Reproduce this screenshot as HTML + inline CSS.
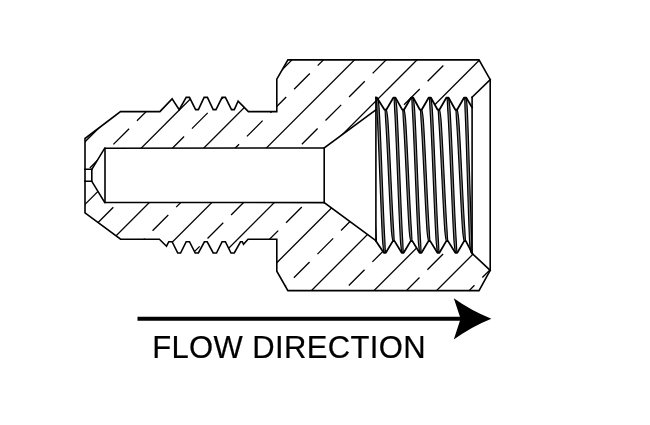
<!DOCTYPE html>
<html><head><meta charset="utf-8"><title>Flow Direction</title>
<style>html,body{margin:0;padding:0;background:#fff;}body{width:650px;height:425px;overflow:hidden;}svg{display:block;will-change:transform;}</style>
</head><body>
<svg width="650" height="425" viewBox="0 0 650 425">
<rect width="650" height="425" fill="#fff"/>
<defs><clipPath id="sec"><polygon points="85.00,138.50 120.50,111.60 159.90,111.60 172.10,98.90 179.20,109.65 186.20,97.40 189.50,97.40 195.60,109.65 198.40,109.65 204.10,97.40 207.40,97.40 213.20,109.65 216.00,109.65 222.10,97.40 225.40,97.40 231.50,109.65 234.30,109.65 238.10,101.20 248.40,111.60 276.80,111.60 276.80,79.20 287.90,59.90 479.00,59.90 490.20,79.60 472.00,97.20 466.15,97.55 464.15,97.55 457.10,109.70 455.30,109.70 448.48,97.55 446.48,97.55 439.40,109.70 437.60,109.70 430.81,97.55 428.81,97.55 421.70,109.70 419.90,109.70 413.14,97.55 411.14,97.55 404.00,109.70 402.20,109.70 395.47,97.55 393.47,97.55 386.30,109.70 384.50,109.70 376.80,97.55 375.90,97.60 375.90,109.75 324.20,147.90 104.70,148.20 91.80,169.30 85.00,169.30"/><polygon points="85.00,212.80 120.60,239.10 159.40,239.30 166.50,246.20 168.80,241.75 172.10,241.75 177.75,253.00 180.60,253.00 186.20,241.75 189.50,241.75 195.20,253.00 198.40,253.00 204.40,241.75 207.20,241.75 213.20,253.00 216.50,253.00 222.10,241.75 225.40,241.75 231.00,253.00 234.30,253.00 240.50,241.75 242.30,241.75 243.50,244.30 248.00,239.30 276.80,239.30 276.80,271.20 287.90,290.60 479.00,290.60 490.20,270.40 472.30,253.60 465.88,241.10 464.08,241.10 457.30,252.80 455.30,252.80 448.06,241.10 446.26,241.10 439.43,252.80 437.43,252.80 430.24,241.10 428.44,241.10 421.55,252.80 419.55,252.80 412.42,241.10 410.62,241.10 403.68,252.80 401.68,252.80 394.60,241.10 392.80,241.10 385.80,252.80 383.80,252.80 375.90,241.00 375.90,240.60 324.20,202.60 104.70,202.50 91.80,181.30 85.00,181.30"/></clipPath>
<clipPath id="thr"><rect x="375.9" y="90" width="96.3" height="170"/></clipPath></defs>
<g clip-path="url(#sec)" stroke="#000" stroke-width="1.3" fill="none">
<line x1="-299.17" y1="400.83" x2="400.83" y2="-299.17"/>
<line x1="-310.98" y1="380.52" x2="384.77" y2="-315.23" stroke-dasharray="22.24 11.12"/>
<line x1="-267.90" y1="432.10" x2="432.10" y2="-267.90"/>
<line x1="-279.60" y1="411.90" x2="416.15" y2="-283.85" stroke-dasharray="22.24 11.12"/>
<line x1="-236.62" y1="463.38" x2="463.38" y2="-236.62"/>
<line x1="-248.22" y1="443.27" x2="447.52" y2="-252.47" stroke-dasharray="22.24 11.12"/>
<line x1="-205.35" y1="494.65" x2="494.65" y2="-205.35"/>
<line x1="-216.85" y1="474.65" x2="478.90" y2="-221.10" stroke-dasharray="22.24 11.12"/>
<line x1="-174.07" y1="525.92" x2="525.92" y2="-174.07"/>
<line x1="-185.47" y1="506.02" x2="510.27" y2="-189.72" stroke-dasharray="22.24 11.12"/>
<line x1="-142.80" y1="557.20" x2="557.20" y2="-142.80"/>
<line x1="-154.10" y1="537.40" x2="541.65" y2="-158.35" stroke-dasharray="22.24 11.12"/>
<line x1="-111.53" y1="588.48" x2="588.48" y2="-111.53"/>
<line x1="-122.72" y1="568.77" x2="573.02" y2="-126.97" stroke-dasharray="22.24 11.12"/>
<line x1="-80.25" y1="619.75" x2="619.75" y2="-80.25"/>
<line x1="-91.35" y1="600.15" x2="604.40" y2="-95.60" stroke-dasharray="22.24 11.12"/>
<line x1="-48.98" y1="651.02" x2="651.02" y2="-48.98"/>
<line x1="-59.98" y1="631.52" x2="635.77" y2="-64.23" stroke-dasharray="22.24 11.12"/>
<line x1="-17.70" y1="682.30" x2="682.30" y2="-17.70"/>
<line x1="-28.60" y1="662.90" x2="667.15" y2="-32.85" stroke-dasharray="22.24 11.12"/>
<line x1="13.57" y1="713.58" x2="713.58" y2="13.57"/>
<line x1="2.77" y1="694.27" x2="698.52" y2="-1.48" stroke-dasharray="22.24 11.12"/>
<line x1="44.85" y1="744.85" x2="744.85" y2="44.85"/>
<line x1="34.15" y1="725.65" x2="729.90" y2="29.90" stroke-dasharray="22.24 11.12"/>
<line x1="76.12" y1="776.12" x2="776.12" y2="76.12"/>
<line x1="65.52" y1="757.02" x2="761.27" y2="61.27" stroke-dasharray="22.24 11.12"/>
</g>
<g clip-path="url(#thr)" stroke="#000" stroke-width="1.2" fill="none" stroke-linejoin="round">
<polygon fill="#808080" points="358.66,98.00 358.68,98.06 358.71,98.24 358.73,98.54 358.76,98.95 358.80,99.48 358.83,100.13 358.87,100.90 358.90,101.78 358.94,102.77 358.99,103.88 359.03,105.09 359.07,106.41 359.12,107.84 359.21,109.38 359.30,111.01 359.39,112.74 359.49,114.57 359.59,116.50 359.69,118.51 359.79,120.61 359.89,122.80 359.99,125.06 360.09,127.41 360.20,129.82 360.30,132.31 360.41,134.86 360.52,137.48 360.63,140.15 360.74,142.88 360.85,145.66 360.96,148.48 361.07,151.34 361.18,154.24 361.30,157.18 361.41,160.14 361.52,163.12 361.64,166.13 361.75,169.14 361.86,172.17 361.98,175.20 362.09,178.23 362.21,181.26 362.32,184.27 362.43,187.28 362.55,190.26 362.66,193.22 362.77,196.16 362.88,199.06 363.00,201.92 363.11,204.74 363.22,207.52 363.33,210.25 363.44,212.92 363.54,215.54 363.65,218.09 363.76,220.58 363.86,222.99 363.96,225.34 364.07,227.60 364.17,229.79 364.27,231.89 364.37,233.90 364.46,235.83 364.56,237.66 364.65,239.39 364.75,241.02 364.84,242.56 364.98,243.99 365.11,245.31 365.24,246.52 365.37,247.63 365.49,248.62 365.62,249.50 365.74,250.27 365.87,250.92 365.99,251.45 366.10,251.86 366.22,252.16 366.34,252.34 366.45,252.40 367.60,252.40 367.58,252.34 367.55,252.16 367.52,251.86 367.49,251.45 367.46,250.92 367.42,250.27 367.39,249.50 367.35,248.62 367.31,247.63 367.27,246.52 367.23,245.31 367.18,243.99 367.13,242.56 367.05,241.02 366.95,239.39 366.86,237.66 366.76,235.83 366.67,233.90 366.57,231.89 366.47,229.79 366.37,227.60 366.26,225.34 366.16,222.99 366.06,220.58 365.95,218.09 365.84,215.54 365.74,212.92 365.63,210.25 365.52,207.52 365.41,204.74 365.30,201.92 365.18,199.06 365.07,196.16 364.96,193.22 364.85,190.26 364.73,187.28 364.62,184.27 364.51,181.26 364.39,178.23 364.28,175.20 364.16,172.17 364.05,169.14 363.94,166.13 363.82,163.12 363.71,160.14 363.60,157.18 363.48,154.24 363.37,151.34 363.26,148.48 363.15,145.66 363.04,142.88 362.93,140.15 362.82,137.48 362.71,134.86 362.60,132.31 362.50,129.82 362.39,127.41 362.29,125.06 362.19,122.80 362.09,120.61 361.99,118.51 361.89,116.50 361.79,114.57 361.69,112.74 361.60,111.01 361.51,109.38 361.41,107.84 361.28,106.41 361.15,105.09 361.02,103.88 360.89,102.77 360.76,101.78 360.64,100.90 360.51,100.13 360.39,99.48 360.27,98.95 360.15,98.54 360.03,98.24 359.92,98.06 359.81,98.00"/>
<polygon fill="#808080" points="367.23,109.60 367.26,109.65 367.29,109.80 367.33,110.06 367.36,110.41 367.40,110.86 367.44,111.42 367.49,112.07 367.53,112.82 367.58,113.67 367.63,114.61 367.68,115.64 367.73,116.77 367.79,117.99 367.84,119.30 367.93,120.69 368.03,122.17 368.13,123.73 368.23,125.37 368.34,127.08 368.44,128.87 368.55,130.73 368.65,132.67 368.76,134.66 368.87,136.72 368.98,138.84 369.10,141.02 369.21,143.25 369.32,145.53 369.44,147.85 369.55,150.22 369.67,152.63 369.79,155.07 369.91,157.54 370.02,160.04 370.14,162.56 370.26,165.11 370.38,167.67 370.50,170.24 370.62,172.82 370.74,175.40 370.86,177.98 370.98,180.56 371.10,183.13 371.22,185.69 371.34,188.24 371.46,190.76 371.57,193.26 371.69,195.73 371.81,198.17 371.93,200.58 372.04,202.95 372.16,205.27 372.27,207.55 372.38,209.78 372.50,211.96 372.61,214.08 372.72,216.14 372.83,218.13 372.93,220.07 373.04,221.93 373.14,223.72 373.25,225.43 373.35,227.07 373.45,228.63 373.55,230.11 373.66,231.50 373.79,232.81 373.93,234.03 374.06,235.16 374.19,236.19 374.32,237.13 374.45,237.98 374.57,238.73 374.70,239.38 374.82,239.94 374.94,240.39 375.06,240.74 375.18,241.00 375.29,241.15 375.41,241.20 376.56,241.20 376.52,241.15 376.49,241.00 376.45,240.74 376.42,240.39 376.38,239.94 376.34,239.38 376.29,238.73 376.25,237.98 376.20,237.13 376.15,236.19 376.10,235.16 376.05,234.03 375.99,232.81 375.94,231.50 375.85,230.11 375.75,228.63 375.65,227.07 375.55,225.43 375.44,223.72 375.34,221.93 375.23,220.07 375.13,218.13 375.02,216.14 374.91,214.08 374.80,211.96 374.68,209.78 374.57,207.55 374.46,205.27 374.34,202.95 374.23,200.58 374.11,198.17 373.99,195.73 373.87,193.26 373.76,190.76 373.64,188.24 373.52,185.69 373.40,183.13 373.28,180.56 373.16,177.98 373.04,175.40 372.92,172.82 372.80,170.24 372.68,167.67 372.56,165.11 372.44,162.56 372.32,160.04 372.21,157.54 372.09,155.07 371.97,152.63 371.85,150.22 371.74,147.85 371.62,145.53 371.51,143.25 371.40,141.02 371.28,138.84 371.17,136.72 371.06,134.66 370.95,132.67 370.85,130.73 370.74,128.87 370.64,127.08 370.53,125.37 370.43,123.73 370.33,122.17 370.23,120.69 370.12,119.30 369.99,117.99 369.85,116.77 369.72,115.64 369.59,114.61 369.46,113.67 369.33,112.82 369.21,112.07 369.08,111.42 368.96,110.86 368.84,110.41 368.72,110.06 368.60,109.80 368.49,109.65 368.38,109.60"/>
<polygon fill="#808080" points="376.33,98.00 376.35,98.06 376.38,98.24 376.41,98.54 376.44,98.95 376.48,99.48 376.51,100.13 376.55,100.90 376.59,101.78 376.63,102.77 376.68,103.88 376.72,105.09 376.77,106.41 376.82,107.84 376.91,109.38 377.00,111.01 377.10,112.74 377.20,114.57 377.30,116.50 377.40,118.51 377.50,120.61 377.61,122.80 377.71,125.06 377.82,127.41 377.92,129.82 378.03,132.31 378.14,134.86 378.25,137.48 378.37,140.15 378.48,142.88 378.59,145.66 378.70,148.48 378.82,151.34 378.93,154.24 379.05,157.18 379.17,160.14 379.28,163.12 379.40,166.13 379.52,169.14 379.63,172.17 379.75,175.20 379.87,178.23 379.98,181.26 380.10,184.27 380.22,187.28 380.33,190.26 380.45,193.22 380.57,196.16 380.68,199.06 380.80,201.92 380.91,204.74 381.02,207.52 381.13,210.25 381.25,212.92 381.36,215.54 381.47,218.09 381.58,220.58 381.68,222.99 381.79,225.34 381.89,227.60 382.00,229.79 382.10,231.89 382.20,233.90 382.30,235.83 382.40,237.66 382.50,239.39 382.59,241.02 382.69,242.56 382.83,243.99 382.96,245.31 383.09,246.52 383.22,247.63 383.35,248.62 383.48,249.50 383.61,250.27 383.73,250.92 383.85,251.45 383.97,251.86 384.09,252.16 384.21,252.34 384.32,252.40 385.48,252.40 385.45,252.34 385.42,252.16 385.39,251.86 385.36,251.45 385.32,250.92 385.29,250.27 385.25,249.50 385.21,248.62 385.17,247.63 385.12,246.52 385.08,245.31 385.03,243.99 384.98,242.56 384.89,241.02 384.80,239.39 384.70,237.66 384.60,235.83 384.50,233.90 384.40,231.89 384.30,229.79 384.19,227.60 384.09,225.34 383.98,222.99 383.88,220.58 383.77,218.09 383.66,215.54 383.55,212.92 383.43,210.25 383.32,207.52 383.21,204.74 383.10,201.92 382.98,199.06 382.87,196.16 382.75,193.22 382.63,190.26 382.52,187.28 382.40,184.27 382.28,181.26 382.17,178.23 382.05,175.20 381.93,172.17 381.82,169.14 381.70,166.13 381.58,163.12 381.47,160.14 381.35,157.18 381.23,154.24 381.12,151.34 381.00,148.48 380.89,145.66 380.78,142.88 380.67,140.15 380.55,137.48 380.44,134.86 380.33,132.31 380.22,129.82 380.12,127.41 380.01,125.06 379.91,122.80 379.80,120.61 379.70,118.51 379.60,116.50 379.50,114.57 379.40,112.74 379.30,111.01 379.21,109.38 379.11,107.84 378.97,106.41 378.84,105.09 378.71,103.88 378.58,102.77 378.45,101.78 378.32,100.90 378.19,100.13 378.07,99.48 377.95,98.95 377.83,98.54 377.71,98.24 377.59,98.06 377.48,98.00"/>
<polygon fill="#808080" points="384.93,109.60 384.96,109.65 384.99,109.80 385.03,110.06 385.07,110.41 385.11,110.86 385.15,111.42 385.19,112.07 385.24,112.82 385.29,113.67 385.34,114.61 385.39,115.64 385.45,116.77 385.50,117.99 385.56,119.30 385.65,120.69 385.75,122.17 385.85,123.73 385.96,125.37 386.06,127.08 386.17,128.87 386.28,130.73 386.38,132.67 386.49,134.66 386.61,136.72 386.72,138.84 386.83,141.02 386.95,143.25 387.06,145.53 387.18,147.85 387.30,150.22 387.42,152.63 387.53,155.07 387.65,157.54 387.77,160.04 387.89,162.56 388.01,165.11 388.14,167.67 388.26,170.24 388.38,172.82 388.50,175.40 388.62,177.98 388.74,180.56 388.86,183.13 388.99,185.69 389.11,188.24 389.23,190.76 389.35,193.26 389.47,195.73 389.58,198.17 389.70,200.58 389.82,202.95 389.94,205.27 390.05,207.55 390.17,209.78 390.28,211.96 390.39,214.08 390.51,216.14 390.62,218.13 390.72,220.07 390.83,221.93 390.94,223.72 391.04,225.43 391.15,227.07 391.25,228.63 391.35,230.11 391.46,231.50 391.60,232.81 391.73,234.03 391.86,235.16 392.00,236.19 392.13,237.13 392.26,237.98 392.38,238.73 392.51,239.38 392.63,239.94 392.76,240.39 392.88,240.74 392.99,241.00 393.11,241.15 393.23,241.20 394.38,241.20 394.34,241.15 394.31,241.00 394.27,240.74 394.23,240.39 394.19,239.94 394.15,239.38 394.11,238.73 394.06,237.98 394.01,237.13 393.96,236.19 393.91,235.16 393.85,234.03 393.80,232.81 393.74,231.50 393.65,230.11 393.55,228.63 393.45,227.07 393.34,225.43 393.24,223.72 393.13,221.93 393.02,220.07 392.92,218.13 392.81,216.14 392.69,214.08 392.58,211.96 392.47,209.78 392.35,207.55 392.24,205.27 392.12,202.95 392.00,200.58 391.88,198.17 391.77,195.73 391.65,193.26 391.53,190.76 391.41,188.24 391.29,185.69 391.16,183.13 391.04,180.56 390.92,177.98 390.80,175.40 390.68,172.82 390.56,170.24 390.44,167.67 390.31,165.11 390.19,162.56 390.07,160.04 389.95,157.54 389.83,155.07 389.72,152.63 389.60,150.22 389.48,147.85 389.36,145.53 389.25,143.25 389.13,141.02 389.02,138.84 388.91,136.72 388.79,134.66 388.68,132.67 388.58,130.73 388.47,128.87 388.36,127.08 388.26,125.37 388.15,123.73 388.05,122.17 387.95,120.69 387.84,119.30 387.70,117.99 387.57,116.77 387.44,115.64 387.30,114.61 387.17,113.67 387.04,112.82 386.92,112.07 386.79,111.42 386.67,110.86 386.54,110.41 386.42,110.06 386.31,109.80 386.19,109.65 386.07,109.60"/>
<polygon fill="#808080" points="394.00,98.00 394.02,98.06 394.05,98.24 394.09,98.54 394.12,98.95 394.16,99.48 394.19,100.13 394.23,100.90 394.28,101.78 394.32,102.77 394.37,103.88 394.41,105.09 394.46,106.41 394.51,107.84 394.61,109.38 394.70,111.01 394.80,112.74 394.90,114.57 395.01,116.50 395.11,118.51 395.22,120.61 395.32,122.80 395.43,125.06 395.54,127.41 395.65,129.82 395.76,132.31 395.87,134.86 395.99,137.48 396.10,140.15 396.22,142.88 396.33,145.66 396.45,148.48 396.57,151.34 396.69,154.24 396.80,157.18 396.92,160.14 397.04,163.12 397.16,166.13 397.28,169.14 397.40,172.17 397.52,175.20 397.64,178.23 397.76,181.26 397.88,184.27 398.00,187.28 398.12,190.26 398.24,193.22 398.36,196.16 398.48,199.06 398.59,201.92 398.71,204.74 398.83,207.52 398.94,210.25 399.06,212.92 399.17,215.54 399.28,218.09 399.39,220.58 399.50,222.99 399.61,225.34 399.72,227.60 399.83,229.79 399.93,231.89 400.04,233.90 400.14,235.83 400.24,237.66 400.34,239.39 400.44,241.02 400.54,242.56 400.68,243.99 400.81,245.31 400.95,246.52 401.08,247.63 401.21,248.62 401.34,249.50 401.47,250.27 401.60,250.92 401.72,251.45 401.84,251.86 401.96,252.16 402.08,252.34 402.20,252.40 403.35,252.40 403.32,252.34 403.29,252.16 403.26,251.86 403.22,251.45 403.19,250.92 403.15,250.27 403.11,249.50 403.07,248.62 403.02,247.63 402.98,246.52 402.93,245.31 402.88,243.99 402.83,242.56 402.74,241.02 402.64,239.39 402.54,237.66 402.44,235.83 402.34,233.90 402.23,231.89 402.13,229.79 402.02,227.60 401.91,225.34 401.80,222.99 401.69,220.58 401.58,218.09 401.47,215.54 401.36,212.92 401.24,210.25 401.13,207.52 401.01,204.74 400.89,201.92 400.78,199.06 400.66,196.16 400.54,193.22 400.42,190.26 400.30,187.28 400.18,184.27 400.06,181.26 399.94,178.23 399.82,175.20 399.70,172.17 399.58,169.14 399.46,166.13 399.34,163.12 399.22,160.14 399.10,157.18 398.99,154.24 398.87,151.34 398.75,148.48 398.63,145.66 398.52,142.88 398.40,140.15 398.29,137.48 398.17,134.86 398.06,132.31 397.95,129.82 397.84,127.41 397.73,125.06 397.62,122.80 397.52,120.61 397.41,118.51 397.31,116.50 397.20,114.57 397.10,112.74 397.00,111.01 396.91,109.38 396.81,107.84 396.67,106.41 396.53,105.09 396.40,103.88 396.26,102.77 396.13,101.78 396.00,100.90 395.88,100.13 395.75,99.48 395.62,98.95 395.50,98.54 395.38,98.24 395.26,98.06 395.15,98.00"/>
<polygon fill="#808080" points="402.62,109.60 402.66,109.65 402.69,109.80 402.73,110.06 402.77,110.41 402.81,110.86 402.86,111.42 402.90,112.07 402.95,112.82 403.00,113.67 403.05,114.61 403.10,115.64 403.16,116.77 403.22,117.99 403.28,119.30 403.37,120.69 403.47,122.17 403.57,123.73 403.68,125.37 403.79,127.08 403.89,128.87 404.00,130.73 404.11,132.67 404.23,134.66 404.34,136.72 404.45,138.84 404.57,141.02 404.69,143.25 404.80,145.53 404.92,147.85 405.04,150.22 405.16,152.63 405.28,155.07 405.40,157.54 405.52,160.04 405.65,162.56 405.77,165.11 405.89,167.67 406.01,170.24 406.14,172.82 406.26,175.40 406.38,177.98 406.51,180.56 406.63,183.13 406.75,185.69 406.87,188.24 407.00,190.76 407.12,193.26 407.24,195.73 407.36,198.17 407.48,200.58 407.60,202.95 407.72,205.27 407.83,207.55 407.95,209.78 408.07,211.96 408.18,214.08 408.29,216.14 408.41,218.13 408.52,220.07 408.63,221.93 408.73,223.72 408.84,225.43 408.95,227.07 409.05,228.63 409.15,230.11 409.26,231.50 409.40,232.81 409.54,234.03 409.67,235.16 409.81,236.19 409.94,237.13 410.07,237.98 410.20,238.73 410.32,239.38 410.45,239.94 410.57,240.39 410.69,240.74 410.81,241.00 410.93,241.15 411.05,241.20 412.19,241.20 412.16,241.15 412.13,241.00 412.09,240.74 412.05,240.39 412.01,239.94 411.96,239.38 411.92,238.73 411.87,237.98 411.82,237.13 411.77,236.19 411.72,235.16 411.66,234.03 411.60,232.81 411.54,231.50 411.45,230.11 411.35,228.63 411.25,227.07 411.14,225.43 411.03,223.72 410.93,221.93 410.82,220.07 410.71,218.13 410.59,216.14 410.48,214.08 410.37,211.96 410.25,209.78 410.13,207.55 410.02,205.27 409.90,202.95 409.78,200.58 409.66,198.17 409.54,195.73 409.42,193.26 409.30,190.76 409.17,188.24 409.05,185.69 408.93,183.13 408.81,180.56 408.68,177.98 408.56,175.40 408.44,172.82 408.31,170.24 408.19,167.67 408.07,165.11 407.95,162.56 407.82,160.04 407.70,157.54 407.58,155.07 407.46,152.63 407.34,150.22 407.22,147.85 407.10,145.53 406.99,143.25 406.87,141.02 406.75,138.84 406.64,136.72 406.53,134.66 406.41,132.67 406.30,130.73 406.19,128.87 406.09,127.08 405.98,125.37 405.87,123.73 405.77,122.17 405.67,120.69 405.56,119.30 405.42,117.99 405.28,116.77 405.15,115.64 405.01,114.61 404.88,113.67 404.75,112.82 404.62,112.07 404.50,111.42 404.37,110.86 404.25,110.41 404.13,110.06 404.01,109.80 403.89,109.65 403.77,109.60"/>
<polygon fill="#808080" points="411.67,98.00 411.70,98.06 411.73,98.24 411.76,98.54 411.80,98.95 411.84,99.48 411.88,100.13 411.92,100.90 411.96,101.78 412.01,102.77 412.06,103.88 412.11,105.09 412.16,106.41 412.21,107.84 412.31,109.38 412.41,111.01 412.51,112.74 412.61,114.57 412.72,116.50 412.82,118.51 412.93,120.61 413.04,122.80 413.15,125.06 413.26,127.41 413.38,129.82 413.49,132.31 413.61,134.86 413.72,137.48 413.84,140.15 413.96,142.88 414.08,145.66 414.20,148.48 414.32,151.34 414.44,154.24 414.56,157.18 414.68,160.14 414.80,163.12 414.93,166.13 415.05,169.14 415.17,172.17 415.30,175.20 415.42,178.23 415.54,181.26 415.66,184.27 415.79,187.28 415.91,190.26 416.03,193.22 416.15,196.16 416.27,199.06 416.39,201.92 416.51,204.74 416.63,207.52 416.75,210.25 416.87,212.92 416.98,215.54 417.10,218.09 417.21,220.58 417.33,222.99 417.44,225.34 417.55,227.60 417.66,229.79 417.77,231.89 417.87,233.90 417.98,235.83 418.08,237.66 418.18,239.39 418.28,241.02 418.39,242.56 418.53,243.99 418.67,245.31 418.80,246.52 418.94,247.63 419.07,248.62 419.20,249.50 419.33,250.27 419.46,250.92 419.59,251.45 419.71,251.86 419.84,252.16 419.96,252.34 420.07,252.40 421.23,252.40 421.19,252.34 421.16,252.16 421.13,251.86 421.09,251.45 421.05,250.92 421.01,250.27 420.97,249.50 420.93,248.62 420.88,247.63 420.83,246.52 420.78,245.31 420.73,243.99 420.68,242.56 420.58,241.02 420.48,239.39 420.38,237.66 420.28,235.83 420.17,233.90 420.07,231.89 419.96,229.79 419.85,227.60 419.74,225.34 419.63,222.99 419.51,220.58 419.40,218.09 419.28,215.54 419.17,212.92 419.05,210.25 418.93,207.52 418.81,204.74 418.69,201.92 418.57,199.06 418.45,196.16 418.33,193.22 418.21,190.26 418.09,187.28 417.96,184.27 417.84,181.26 417.72,178.23 417.59,175.20 417.47,172.17 417.35,169.14 417.23,166.13 417.10,163.12 416.98,160.14 416.86,157.18 416.74,154.24 416.62,151.34 416.50,148.48 416.38,145.66 416.26,142.88 416.14,140.15 416.02,137.48 415.91,134.86 415.79,132.31 415.68,129.82 415.56,127.41 415.45,125.06 415.34,122.80 415.23,120.61 415.12,118.51 415.02,116.50 414.91,114.57 414.81,112.74 414.71,111.01 414.61,109.38 414.50,107.84 414.36,106.41 414.22,105.09 414.09,103.88 413.95,102.77 413.82,101.78 413.69,100.90 413.56,100.13 413.43,99.48 413.30,98.95 413.18,98.54 413.05,98.24 412.93,98.06 412.81,98.00"/>
<polygon fill="#808080" points="420.32,109.60 420.36,109.65 420.40,109.80 420.44,110.06 420.48,110.41 420.52,110.86 420.56,111.42 420.61,112.07 420.66,112.82 420.71,113.67 420.76,114.61 420.82,115.64 420.87,116.77 420.93,117.99 420.99,119.30 421.09,120.69 421.19,122.17 421.30,123.73 421.40,125.37 421.51,127.08 421.62,128.87 421.73,130.73 421.84,132.67 421.96,134.66 422.07,136.72 422.19,138.84 422.30,141.02 422.42,143.25 422.54,145.53 422.66,147.85 422.78,150.22 422.90,152.63 423.03,155.07 423.15,157.54 423.27,160.04 423.40,162.56 423.52,165.11 423.65,167.67 423.77,170.24 423.89,172.82 424.02,175.40 424.15,177.98 424.27,180.56 424.39,183.13 424.52,185.69 424.64,188.24 424.77,190.76 424.89,193.26 425.01,195.73 425.14,198.17 425.26,200.58 425.38,202.95 425.50,205.27 425.62,207.55 425.74,209.78 425.85,211.96 425.97,214.08 426.08,216.14 426.20,218.13 426.31,220.07 426.42,221.93 426.53,223.72 426.64,225.43 426.74,227.07 426.85,228.63 426.95,230.11 427.06,231.50 427.20,232.81 427.34,234.03 427.48,235.16 427.61,236.19 427.75,237.13 427.88,237.98 428.01,238.73 428.14,239.38 428.26,239.94 428.39,240.39 428.51,240.74 428.63,241.00 428.75,241.15 428.87,241.20 430.01,241.20 429.98,241.15 429.94,241.00 429.90,240.74 429.86,240.39 429.82,239.94 429.78,239.38 429.73,238.73 429.68,237.98 429.63,237.13 429.58,236.19 429.52,235.16 429.47,234.03 429.41,232.81 429.35,231.50 429.25,230.11 429.15,228.63 429.04,227.07 428.94,225.43 428.83,223.72 428.72,221.93 428.61,220.07 428.50,218.13 428.38,216.14 428.27,214.08 428.15,211.96 428.04,209.78 427.92,207.55 427.80,205.27 427.68,202.95 427.56,200.58 427.44,198.17 427.31,195.73 427.19,193.26 427.07,190.76 426.94,188.24 426.82,185.69 426.69,183.13 426.57,180.56 426.45,177.98 426.32,175.40 426.19,172.82 426.07,170.24 425.95,167.67 425.82,165.11 425.70,162.56 425.57,160.04 425.45,157.54 425.33,155.07 425.20,152.63 425.08,150.22 424.96,147.85 424.84,145.53 424.72,143.25 424.60,141.02 424.49,138.84 424.37,136.72 424.26,134.66 424.14,132.67 424.03,130.73 423.92,128.87 423.81,127.08 423.70,125.37 423.60,123.73 423.49,122.17 423.39,120.69 423.28,119.30 423.14,117.99 423.00,116.77 422.86,115.64 422.73,114.61 422.59,113.67 422.46,112.82 422.33,112.07 422.20,111.42 422.08,110.86 421.95,110.41 421.83,110.06 421.71,109.80 421.59,109.65 421.47,109.60"/>
<polygon fill="#808080" points="429.34,98.00 429.37,98.06 429.40,98.24 429.44,98.54 429.48,98.95 429.52,99.48 429.56,100.13 429.60,100.90 429.65,101.78 429.70,102.77 429.75,103.88 429.80,105.09 429.85,106.41 429.91,107.84 430.01,109.38 430.11,111.01 430.21,112.74 430.32,114.57 430.43,116.50 430.54,118.51 430.65,120.61 430.76,122.80 430.87,125.06 430.99,127.41 431.10,129.82 431.22,132.31 431.34,134.86 431.46,137.48 431.58,140.15 431.70,142.88 431.82,145.66 431.94,148.48 432.07,151.34 432.19,154.24 432.31,157.18 432.44,160.14 432.56,163.12 432.69,166.13 432.82,169.14 432.94,172.17 433.07,175.20 433.19,178.23 433.32,181.26 433.45,184.27 433.57,187.28 433.70,190.26 433.82,193.22 433.95,196.16 434.07,199.06 434.19,201.92 434.32,204.74 434.44,207.52 434.56,210.25 434.68,212.92 434.80,215.54 434.92,218.09 435.03,220.58 435.15,222.99 435.26,225.34 435.38,227.60 435.49,229.79 435.60,231.89 435.71,233.90 435.82,235.83 435.92,237.66 436.03,239.39 436.13,241.02 436.23,242.56 436.38,243.99 436.52,245.31 436.66,246.52 436.79,247.63 436.93,248.62 437.06,249.50 437.20,250.27 437.33,250.92 437.46,251.45 437.58,251.86 437.71,252.16 437.83,252.34 437.95,252.40 439.10,252.40 439.07,252.34 439.03,252.16 439.00,251.86 438.96,251.45 438.92,250.92 438.88,250.27 438.83,249.50 438.79,248.62 438.74,247.63 438.69,246.52 438.64,245.31 438.58,243.99 438.53,242.56 438.43,241.02 438.33,239.39 438.22,237.66 438.12,235.83 438.01,233.90 437.90,231.89 437.79,229.79 437.68,227.60 437.56,225.34 437.45,222.99 437.33,220.58 437.22,218.09 437.10,215.54 436.98,212.92 436.86,210.25 436.74,207.52 436.62,204.74 436.49,201.92 436.37,199.06 436.25,196.16 436.12,193.22 436.00,190.26 435.87,187.28 435.75,184.27 435.62,181.26 435.49,178.23 435.37,175.20 435.24,172.17 435.12,169.14 434.99,166.13 434.86,163.12 434.74,160.14 434.61,157.18 434.49,154.24 434.37,151.34 434.24,148.48 434.12,145.66 434.00,142.88 433.88,140.15 433.76,137.48 433.64,134.86 433.52,132.31 433.40,129.82 433.29,127.41 433.17,125.06 433.06,122.80 432.95,120.61 432.84,118.51 432.73,116.50 432.62,114.57 432.51,112.74 432.41,111.01 432.31,109.38 432.20,107.84 432.06,106.41 431.92,105.09 431.78,103.88 431.64,102.77 431.50,101.78 431.37,100.90 431.24,100.13 431.11,99.48 430.98,98.95 430.85,98.54 430.73,98.24 430.61,98.06 430.49,98.00"/>
<polygon fill="#808080" points="438.03,109.60 438.06,109.65 438.10,109.80 438.14,110.06 438.18,110.41 438.22,110.86 438.27,111.42 438.32,112.07 438.37,112.82 438.42,113.67 438.47,114.61 438.53,115.64 438.59,116.77 438.65,117.99 438.71,119.30 438.81,120.69 438.91,122.17 439.02,123.73 439.13,125.37 439.23,127.08 439.35,128.87 439.46,130.73 439.57,132.67 439.69,134.66 439.80,136.72 439.92,138.84 440.04,141.02 440.16,143.25 440.28,145.53 440.40,147.85 440.53,150.22 440.65,152.63 440.77,155.07 440.90,157.54 441.02,160.04 441.15,162.56 441.27,165.11 441.40,167.67 441.53,170.24 441.65,172.82 441.78,175.40 441.91,177.98 442.03,180.56 442.16,183.13 442.29,185.69 442.41,188.24 442.54,190.76 442.66,193.26 442.79,195.73 442.91,198.17 443.03,200.58 443.16,202.95 443.28,205.27 443.40,207.55 443.52,209.78 443.64,211.96 443.76,214.08 443.87,216.14 443.99,218.13 444.10,220.07 444.21,221.93 444.33,223.72 444.43,225.43 444.54,227.07 444.65,228.63 444.75,230.11 444.87,231.50 445.01,232.81 445.15,234.03 445.29,235.16 445.42,236.19 445.56,237.13 445.69,237.98 445.82,238.73 445.95,239.38 446.08,239.94 446.20,240.39 446.33,240.74 446.45,241.00 446.57,241.15 446.69,241.20 447.83,241.20 447.80,241.15 447.76,241.00 447.72,240.74 447.68,240.39 447.64,239.94 447.59,239.38 447.54,238.73 447.49,237.98 447.44,237.13 447.39,236.19 447.33,235.16 447.27,234.03 447.21,232.81 447.15,231.50 447.05,230.11 446.95,228.63 446.84,227.07 446.73,225.43 446.63,223.72 446.51,221.93 446.40,220.07 446.29,218.13 446.17,216.14 446.06,214.08 445.94,211.96 445.82,209.78 445.70,207.55 445.58,205.27 445.46,202.95 445.33,200.58 445.21,198.17 445.09,195.73 444.96,193.26 444.84,190.76 444.71,188.24 444.59,185.69 444.46,183.13 444.33,180.56 444.21,177.98 444.08,175.40 443.95,172.82 443.83,170.24 443.70,167.67 443.57,165.11 443.45,162.56 443.32,160.04 443.20,157.54 443.07,155.07 442.95,152.63 442.83,150.22 442.70,147.85 442.58,145.53 442.46,143.25 442.34,141.02 442.22,138.84 442.10,136.72 441.99,134.66 441.87,132.67 441.76,130.73 441.65,128.87 441.53,127.08 441.43,125.37 441.32,123.73 441.21,122.17 441.11,120.69 440.99,119.30 440.85,117.99 440.71,116.77 440.57,115.64 440.44,114.61 440.30,113.67 440.17,112.82 440.04,112.07 439.91,111.42 439.78,110.86 439.66,110.41 439.53,110.06 439.41,109.80 439.29,109.65 439.18,109.60"/>
<polygon fill="#808080" points="447.01,98.00 447.04,98.06 447.07,98.24 447.11,98.54 447.15,98.95 447.19,99.48 447.24,100.13 447.29,100.90 447.33,101.78 447.38,102.77 447.44,103.88 447.49,105.09 447.55,106.41 447.61,107.84 447.71,109.38 447.81,111.01 447.92,112.74 448.03,114.57 448.14,116.50 448.25,118.51 448.36,120.61 448.48,122.80 448.59,125.06 448.71,127.41 448.83,129.82 448.95,132.31 449.07,134.86 449.19,137.48 449.31,140.15 449.44,142.88 449.56,145.66 449.69,148.48 449.81,151.34 449.94,154.24 450.07,157.18 450.20,160.14 450.32,163.12 450.45,166.13 450.58,169.14 450.71,172.17 450.84,175.20 450.97,178.23 451.10,181.26 451.23,184.27 451.36,187.28 451.48,190.26 451.61,193.22 451.74,196.16 451.87,199.06 451.99,201.92 452.12,204.74 452.24,207.52 452.37,210.25 452.49,212.92 452.61,215.54 452.73,218.09 452.85,220.58 452.97,222.99 453.09,225.34 453.20,227.60 453.32,229.79 453.43,231.89 453.54,233.90 453.65,235.83 453.76,237.66 453.87,239.39 453.97,241.02 454.08,242.56 454.23,243.99 454.37,245.31 454.51,246.52 454.65,247.63 454.79,248.62 454.93,249.50 455.06,250.27 455.19,250.92 455.32,251.45 455.45,251.86 455.58,252.16 455.70,252.34 455.82,252.40 456.98,252.40 456.94,252.34 456.91,252.16 456.87,251.86 456.83,251.45 456.79,250.92 456.74,250.27 456.69,249.50 456.65,248.62 456.60,247.63 456.54,246.52 456.49,245.31 456.43,243.99 456.37,242.56 456.27,241.02 456.17,239.39 456.06,237.66 455.95,235.83 455.84,233.90 455.73,231.89 455.62,229.79 455.50,227.60 455.39,225.34 455.27,222.99 455.15,220.58 455.03,218.09 454.91,215.54 454.79,212.92 454.67,210.25 454.54,207.52 454.42,204.74 454.29,201.92 454.17,199.06 454.04,196.16 453.91,193.22 453.78,190.26 453.66,187.28 453.53,184.27 453.40,181.26 453.27,178.23 453.14,175.20 453.01,172.17 452.88,169.14 452.75,166.13 452.62,163.12 452.50,160.14 452.37,157.18 452.24,154.24 452.11,151.34 451.99,148.48 451.86,145.66 451.74,142.88 451.61,140.15 451.49,137.48 451.37,134.86 451.25,132.31 451.13,129.82 451.01,127.41 450.89,125.06 450.78,122.80 450.66,120.61 450.55,118.51 450.44,116.50 450.33,114.57 450.22,112.74 450.11,111.01 450.01,109.38 449.90,107.84 449.75,106.41 449.61,105.09 449.47,103.88 449.33,102.77 449.19,101.78 449.05,100.90 448.92,100.13 448.79,99.48 448.66,98.95 448.53,98.54 448.40,98.24 448.28,98.06 448.16,98.00"/>
<polygon fill="#808080" points="455.73,109.60 455.76,109.65 455.80,109.80 455.84,110.06 455.88,110.41 455.93,110.86 455.98,111.42 456.03,112.07 456.08,112.82 456.13,113.67 456.19,114.61 456.24,115.64 456.30,116.77 456.36,117.99 456.43,119.30 456.52,120.69 456.63,122.17 456.74,123.73 456.85,125.37 456.96,127.08 457.07,128.87 457.19,130.73 457.30,132.67 457.42,134.66 457.54,136.72 457.66,138.84 457.78,141.02 457.90,143.25 458.02,145.53 458.14,147.85 458.27,150.22 458.39,152.63 458.52,155.07 458.64,157.54 458.77,160.04 458.90,162.56 459.03,165.11 459.15,167.67 459.28,170.24 459.41,172.82 459.54,175.40 459.67,177.98 459.80,180.56 459.93,183.13 460.05,185.69 460.18,188.24 460.31,190.76 460.44,193.26 460.56,195.73 460.69,198.17 460.81,200.58 460.94,202.95 461.06,205.27 461.18,207.55 461.30,209.78 461.42,211.96 461.54,214.08 461.66,216.14 461.78,218.13 461.89,220.07 462.01,221.93 462.12,223.72 462.23,225.43 462.34,227.07 462.45,228.63 462.56,230.11 462.67,231.50 462.81,232.81 462.95,234.03 463.09,235.16 463.23,236.19 463.37,237.13 463.50,237.98 463.63,238.73 463.76,239.38 463.89,239.94 464.02,240.39 464.14,240.74 464.27,241.00 464.39,241.15 464.51,241.20 465.66,241.20 465.62,241.15 465.58,241.00 465.54,240.74 465.50,240.39 465.45,239.94 465.40,239.38 465.35,238.73 465.30,237.98 465.25,237.13 465.19,236.19 465.14,235.16 465.08,234.03 465.02,232.81 464.95,231.50 464.86,230.11 464.75,228.63 464.64,227.07 464.53,225.43 464.42,223.72 464.31,221.93 464.19,220.07 464.08,218.13 463.96,216.14 463.84,214.08 463.72,211.96 463.60,209.78 463.48,207.55 463.36,205.27 463.24,202.95 463.11,200.58 462.99,198.17 462.86,195.73 462.74,193.26 462.61,190.76 462.48,188.24 462.35,185.69 462.23,183.13 462.10,180.56 461.97,177.98 461.84,175.40 461.71,172.82 461.58,170.24 461.45,167.67 461.33,165.11 461.20,162.56 461.07,160.04 460.94,157.54 460.82,155.07 460.69,152.63 460.57,150.22 460.44,147.85 460.32,145.53 460.20,143.25 460.08,141.02 459.96,138.84 459.84,136.72 459.72,134.66 459.60,132.67 459.49,130.73 459.37,128.87 459.26,127.08 459.15,125.37 459.04,123.73 458.93,122.17 458.82,120.69 458.71,119.30 458.57,117.99 458.43,116.77 458.29,115.64 458.15,114.61 458.01,113.67 457.88,112.82 457.75,112.07 457.62,111.42 457.49,110.86 457.36,110.41 457.24,110.06 457.11,109.80 456.99,109.65 456.88,109.60"/>
<polygon fill="#808080" points="464.68,98.00 464.69,98.06 464.70,98.24 464.72,98.54 464.73,98.95 464.75,99.48 464.77,100.13 464.79,100.90 464.81,101.78 464.84,102.77 464.86,103.88 464.89,105.09 464.92,106.41 464.95,107.84 465.02,109.38 465.09,111.01 465.17,112.74 465.25,114.57 465.33,116.50 465.41,118.51 465.49,120.61 465.57,122.80 465.66,125.06 465.74,127.41 465.83,129.82 465.91,132.31 466.00,134.86 466.09,137.48 466.18,140.15 466.27,142.88 466.35,145.66 466.45,148.48 466.54,151.34 466.63,154.24 466.72,157.18 466.81,160.14 466.90,163.12 467.00,166.13 467.09,169.14 467.18,172.17 467.28,175.20 467.37,178.23 467.46,181.26 467.55,184.27 467.65,187.28 467.74,190.26 467.83,193.22 467.92,196.16 468.01,199.06 468.10,201.92 468.20,204.74 468.28,207.52 468.37,210.25 468.46,212.92 468.55,215.54 468.64,218.09 468.72,220.58 468.81,222.99 468.89,225.34 468.98,227.60 469.06,229.79 469.14,231.89 469.22,233.90 469.30,235.83 469.38,237.66 469.46,239.39 469.53,241.02 469.61,242.56 469.73,243.99 469.84,245.31 469.96,246.52 470.07,247.63 470.18,248.62 470.29,249.50 470.40,250.27 470.51,250.92 470.61,251.45 470.72,251.86 470.82,252.16 470.92,252.34 471.02,252.40 472.18,252.40 472.16,252.34 472.15,252.16 472.13,251.86 472.12,251.45 472.10,250.92 472.08,250.27 472.06,249.50 472.04,248.62 472.01,247.63 471.99,246.52 471.96,245.31 471.93,243.99 471.90,242.56 471.83,241.02 471.76,239.39 471.68,237.66 471.60,235.83 471.52,233.90 471.44,231.89 471.36,229.79 471.28,227.60 471.19,225.34 471.11,222.99 471.02,220.58 470.94,218.09 470.85,215.54 470.76,212.92 470.67,210.25 470.58,207.52 470.50,204.74 470.40,201.92 470.31,199.06 470.22,196.16 470.13,193.22 470.04,190.26 469.95,187.28 469.85,184.27 469.76,181.26 469.67,178.23 469.57,175.20 469.48,172.17 469.39,169.14 469.30,166.13 469.20,163.12 469.11,160.14 469.02,157.18 468.93,154.24 468.84,151.34 468.75,148.48 468.65,145.66 468.57,142.88 468.48,140.15 468.39,137.48 468.30,134.86 468.21,132.31 468.13,129.82 468.04,127.41 467.96,125.06 467.87,122.80 467.79,120.61 467.71,118.51 467.63,116.50 467.55,114.57 467.47,112.74 467.39,111.01 467.32,109.38 467.24,107.84 467.12,106.41 467.01,105.09 466.89,103.88 466.78,102.77 466.67,101.78 466.56,100.90 466.45,100.13 466.34,99.48 466.24,98.95 466.13,98.54 466.03,98.24 465.93,98.06 465.83,98.00"/>
<polygon fill="#808080" points="473.43,109.60 473.46,109.65 473.50,109.80 473.55,110.06 473.59,110.41 473.64,110.86 473.68,111.42 473.73,112.07 473.79,112.82 473.84,113.67 473.90,114.61 473.96,115.64 474.02,116.77 474.08,117.99 474.15,119.30 474.24,120.69 474.35,122.17 474.46,123.73 474.57,125.37 474.68,127.08 474.80,128.87 474.91,130.73 475.03,132.67 475.15,134.66 475.27,136.72 475.39,138.84 475.51,141.02 475.64,143.25 475.76,145.53 475.88,147.85 476.01,150.22 476.14,152.63 476.26,155.07 476.39,157.54 476.52,160.04 476.65,162.56 476.78,165.11 476.91,167.67 477.04,170.24 477.17,172.82 477.30,175.40 477.43,177.98 477.56,180.56 477.69,183.13 477.82,185.69 477.95,188.24 478.08,190.76 478.21,193.26 478.34,195.73 478.46,198.17 478.59,200.58 478.72,202.95 478.84,205.27 478.96,207.55 479.09,209.78 479.21,211.96 479.33,214.08 479.45,216.14 479.57,218.13 479.69,220.07 479.80,221.93 479.92,223.72 480.03,225.43 480.14,227.07 480.25,228.63 480.36,230.11 480.47,231.50 480.62,232.81 480.76,234.03 480.90,235.16 481.04,236.19 481.17,237.13 481.31,237.98 481.44,238.73 481.58,239.38 481.71,239.94 481.83,240.39 481.96,240.74 482.08,241.00 482.21,241.15 482.32,241.20 483.47,241.20 483.44,241.15 483.40,241.00 483.35,240.74 483.31,240.39 483.26,239.94 483.22,239.38 483.17,238.73 483.11,237.98 483.06,237.13 483.00,236.19 482.94,235.16 482.88,234.03 482.82,232.81 482.75,231.50 482.66,230.11 482.55,228.63 482.44,227.07 482.33,225.43 482.22,223.72 482.10,221.93 481.99,220.07 481.87,218.13 481.75,216.14 481.63,214.08 481.51,211.96 481.39,209.78 481.26,207.55 481.14,205.27 481.02,202.95 480.89,200.58 480.76,198.17 480.64,195.73 480.51,193.26 480.38,190.76 480.25,188.24 480.12,185.69 479.99,183.13 479.86,180.56 479.73,177.98 479.60,175.40 479.47,172.82 479.34,170.24 479.21,167.67 479.08,165.11 478.95,162.56 478.82,160.04 478.69,157.54 478.56,155.07 478.44,152.63 478.31,150.22 478.18,147.85 478.06,145.53 477.94,143.25 477.81,141.02 477.69,138.84 477.57,136.72 477.45,134.66 477.33,132.67 477.21,130.73 477.10,128.87 476.98,127.08 476.87,125.37 476.76,123.73 476.65,122.17 476.54,120.69 476.43,119.30 476.28,117.99 476.14,116.77 476.00,115.64 475.86,114.61 475.73,113.67 475.59,112.82 475.46,112.07 475.32,111.42 475.19,110.86 475.07,110.41 474.94,110.06 474.82,109.80 474.69,109.65 474.57,109.60"/>
</g>
<g stroke="#000" stroke-width="1.6" fill="none" stroke-linejoin="miter" stroke-linecap="square">
<polyline points="85.00,169.30 85.00,138.50 120.50,111.60 159.90,111.60 172.10,98.90 179.20,109.65 186.20,97.40 189.50,97.40 195.60,109.65 198.40,109.65 204.10,97.40 207.40,97.40 213.20,109.65 216.00,109.65 222.10,97.40 225.40,97.40 231.50,109.65 234.30,109.65 238.10,101.20 248.40,111.60 276.80,111.60 276.80,79.20 287.90,59.90 479.00,59.90 490.20,79.60 490.20,270.40 479.00,290.60 287.90,290.60 276.80,271.20 276.80,239.30 248.00,239.30 243.50,244.30 242.30,241.75 240.50,241.75 234.30,253.00 231.00,253.00 225.40,241.75 222.10,241.75 216.50,253.00 213.20,253.00 207.20,241.75 204.40,241.75 198.40,253.00 195.20,253.00 189.50,241.75 186.20,241.75 180.60,253.00 177.75,253.00 172.10,241.75 168.80,241.75 166.50,246.20 159.40,239.30 120.60,239.10 85.00,212.80 85.00,181.30"/>
<polyline points="85.00,169.30 91.80,169.30 91.80,181.30 85.00,181.30 85.00,169.30"/>
<polyline points="91.80,169.30 104.70,148.20 324.20,148.00 375.90,109.75"/>
<polyline points="91.80,181.30 104.70,202.50 324.20,202.60 375.90,240.60"/>
<line x1="105" y1="148.2" x2="105" y2="202.5"/>
<line x1="324.2" y1="148" x2="324.2" y2="202.6"/>
<line x1="375.9" y1="97.6" x2="375.9" y2="241"/>
<line x1="472.1" y1="97.2" x2="472.1" y2="253.5"/>
<polyline points="375.90,97.60 376.80,97.55 384.50,109.70 386.30,109.70 393.47,97.55 395.47,97.55 402.20,109.70 404.00,109.70 411.14,97.55 413.14,97.55 419.90,109.70 421.70,109.70 428.81,97.55 430.81,97.55 437.60,109.70 439.40,109.70 446.48,97.55 448.48,97.55 455.30,109.70 457.10,109.70 464.15,97.55 466.15,97.55 472.00,107.40" stroke-linejoin="round" stroke-width="1.75"/>
<polyline points="375.90,241.00 383.80,252.80 385.80,252.80 392.80,241.10 394.60,241.10 401.68,252.80 403.68,252.80 410.62,241.10 412.42,241.10 419.55,252.80 421.55,252.80 428.44,241.10 430.24,241.10 437.43,252.80 439.43,252.80 446.26,241.10 448.06,241.10 455.30,252.80 457.30,252.80 464.08,241.10 465.88,241.10 472.30,253.30" stroke-linejoin="round" stroke-width="1.75"/>
<line x1="490.2" y1="79.6" x2="472.1" y2="97.2"/>
<line x1="490.2" y1="270.4" x2="472.3" y2="253.6"/>
</g>
<rect x="137.5" y="316.75" width="325" height="4.0" fill="#000"/>
<path d="M491.4 318.65 Q471.3 310.7 453.8 298.2 L460.6 318.65 L453.8 339.6 Q471.3 326.6 491.4 318.65 Z" fill="#000"/>
<text transform="translate(152.2,358.4) scale(1,1.03)" x="0" y="0" textLength="273.4" lengthAdjust="spacing" font-family="'Liberation Sans', Arial, sans-serif" font-size="31" fill="#000" stroke="#000" stroke-width="0.2" id="t">FLOW DIRECTION</text>
</svg>
</body></html>
